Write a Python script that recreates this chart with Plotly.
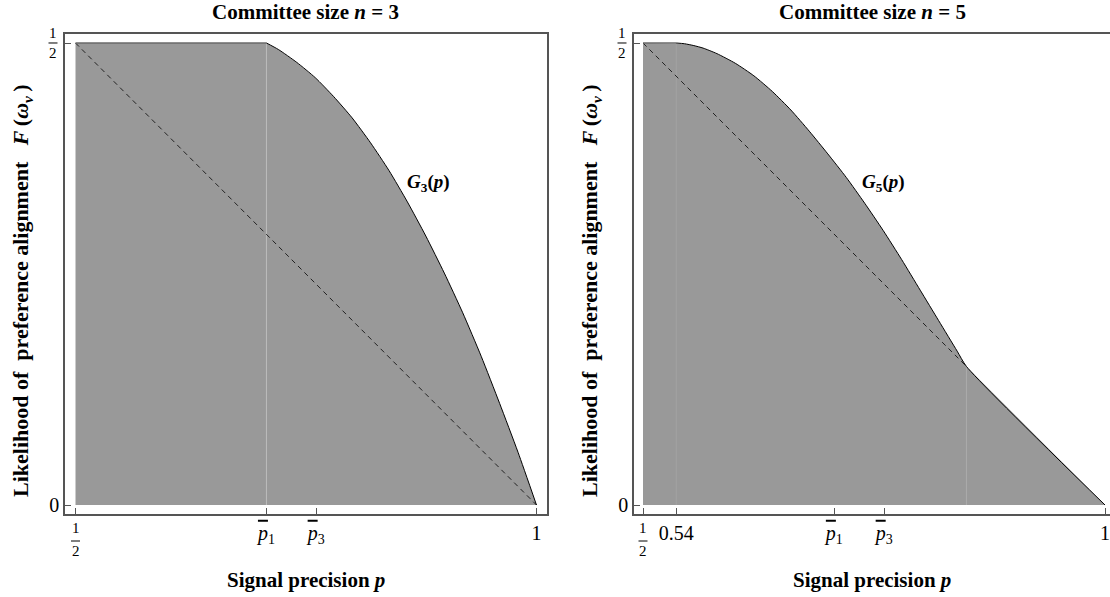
import plotly.graph_objects as go

# ---------------- data ----------------
# Left panel: committee size n = 3
p3 = [0.5, 0.7071, 0.72, 0.74, 0.76, 0.78, 0.80, 0.82, 0.84, 0.86, 0.88,
      0.90, 0.92, 0.94, 0.96, 0.98, 1.0]
G3 = [0.5, 0.5, 0.493, 0.479, 0.4625, 0.442, 0.419, 0.392, 0.362, 0.328,
      0.291, 0.251, 0.208, 0.161, 0.110, 0.057, 0.0]

# Right panel: committee size n = 5
p5 = [0.5, 0.536, 0.545, 0.555, 0.565, 0.58, 0.60, 0.62, 0.64, 0.66, 0.68,
      0.70, 0.72, 0.74, 0.76, 0.78, 0.80, 0.82, 0.84, 0.85, 1.0]
G5 = [0.5, 0.5, 0.4992, 0.4972, 0.4945, 0.4885, 0.478, 0.4645, 0.4475, 0.4275,
      0.4045, 0.380, 0.3545, 0.3265, 0.297, 0.2655, 0.2325, 0.1995, 0.1665,
      0.15, 0.0]

# 45-degree reference line F = 1 - p (dashed)
diag_p = [0.5, 1.0]
diag_F = [0.5, 0.0]

pbar1 = 0.7071
pbar3 = 0.761
p054 = 0.536
pkink5 = 0.85

x_ticks_left = [0.5, pbar1, pbar3, 1.0]
x_ticks_right = [0.5, p054, pbar1, pbar3, 1.0]
pbar_txt = '<i><span style="text-decoration:overline">p</span></i><sub>{}</sub>'
x_text_left = ["", pbar_txt.format(1), pbar_txt.format(3), "1"]
x_text_right = ["", "0.54", pbar_txt.format(1), pbar_txt.format(3), "1"]
y_ticks = [0.0, 0.5]
y_text = ["0", ""]

# ---------------- layout geometry ----------------
W, H = 1110, 597
M = dict(l=65, r=0, t=34, b=83)
PW, PH = W - M["l"] - M["r"], H - M["t"] - M["b"]
dom_left = [0, 0.46124]
dom_right = [0.5445, 1]
rng_left = [0.48861, 1.01139]
rng_right = [0.49026, 1.00541]
rng_y = [-0.00974, 0.50974]

FONT = "Liberation Serif"
FILL = "#999999"
FRAME = "#555555"

fig = go.Figure()

def panel(xa, ya, p, G, flat_end, dividers, diag_end):
    fig.add_trace(go.Scatter(x=p, y=G, mode="lines", fill="tozeroy",
                             fillcolor=FILL, line=dict(width=0),
                             xaxis=xa, yaxis=ya, hoverinfo="skip"))
    for (xd, yd, col) in dividers:
        fig.add_trace(go.Scatter(x=[xd, xd], y=[0, yd], mode="lines",
                                 line=dict(color=col, width=1),
                                 xaxis=xa, yaxis=ya, hoverinfo="skip"))
    dx = [diag_p[0], diag_end]
    dy = [diag_F[0], diag_F[0] + (diag_F[1] - diag_F[0]) * (diag_end - diag_p[0]) / (diag_p[1] - diag_p[0])]
    fig.add_trace(go.Scatter(x=dx, y=dy, mode="lines",
                             line=dict(color="#222222", width=1, dash="5px,4px"),
                             xaxis=xa, yaxis=ya, hoverinfo="skip"))
    k = p.index(flat_end)
    fig.add_trace(go.Scatter(x=p[:k + 1], y=G[:k + 1], mode="lines",
                             line=dict(color="#6a6a6a", width=1.6),
                             xaxis=xa, yaxis=ya, hoverinfo="skip"))
    fig.add_trace(go.Scatter(x=p[k:], y=G[k:], mode="lines",
                             line=dict(color="black", width=1, shape="spline",
                                       smoothing=0.6),
                             xaxis=xa, yaxis=ya, hoverinfo="skip"))

panel("x", "y", p3, G3, pbar1, [(pbar1, G3[p3.index(pbar1)], "#bdbdbd")],
      diag_p[1])
panel("x2", "y2", p5, G5, p054,
      [(p054, G5[p5.index(p054)], "#a2a2a2"),
       (pkink5, G5[p5.index(pkink5)], "#adadad")], pkink5)

tickfont = dict(family=FONT, size=20, color="black")
common_x = dict(showgrid=False, zeroline=False, showline=True, linecolor=FRAME,
                linewidth=1.5, ticks="inside", ticklen=6, tickcolor=FRAME,
                tickwidth=1, tickfont=tickfont, tickmode="array",
                ticklabeloverflow="allow")
common_y = dict(showgrid=False, zeroline=False, showline=True, linecolor=FRAME,
                linewidth=1.5, ticks="inside", ticklen=6, tickcolor=FRAME,
                tickwidth=1, tickfont=tickfont, tickmode="array",
                tickvals=y_ticks, ticktext=y_text, range=rng_y)

fig.update_layout(
    width=W, height=H, autosize=False,
    margin=M,
    plot_bgcolor="white", paper_bgcolor="white", showlegend=False,
    xaxis=dict(common_x, domain=dom_left, range=rng_left,
               tickvals=x_ticks_left, ticktext=x_text_left, mirror=True,
               anchor="y"),
    yaxis=dict(common_y, domain=[0, 1], anchor="x", mirror=True),
    xaxis2=dict(common_x, domain=dom_right, range=rng_right,
                tickvals=x_ticks_right, ticktext=x_text_right, mirror=True,
                anchor="y2"),
    yaxis2=dict(common_y, domain=[0, 1], anchor="x2", mirror=False),
)

def px_x(dom, rng, v, off=0.0):
    return dom[0] + (v - rng[0]) / (rng[1] - rng[0]) * (dom[1] - dom[0]) + off / PW

def px_y(v, off=0.0):
    return (v - rng_y[0]) / (rng_y[1] - rng_y[0]) + off / PH

ann = []
shapes = []
title_font = dict(family=FONT, size=21, color="black")
ytitle_font = dict(family=FONT, size=22, color="black")
small = dict(family=FONT, size=15, color="black")
ytitle = ("<b>Likelihood of\u00a0 preference alignment\u00a0\u00a0\u00a0"
          "<i>F</i>\u2009(<i>\u03c9</i><sub><i>v</i></sub>\u2009)</b>")
for xa, ya, n, dom, rng, gx in [("x", "y", 3, dom_left, rng_left, 0.8825),
                                ("x2", "y2", 5, dom_right, rng_right, 0.7605)]:
    domref = f"{xa} domain"
    ann.append(dict(xref=domref, yref="paper", x=0.5, y=1, yshift=22,
                    text=f"<b>Committee size <i>n</i> = {n}</b>",
                    showarrow=False, font=title_font,
                    xanchor="center", yanchor="middle"))
    ann.append(dict(xref=domref, yref="paper", x=0.5, y=0, yshift=-66,
                    text="<b>Signal precision <i>p</i></b>",
                    showarrow=False, font=title_font,
                    xanchor="center", yanchor="middle"))
    ann.append(dict(xref=domref, yref="paper", x=0, y=0.5, xshift=-43, yshift=-17,
                    text=ytitle, textangle=-90, showarrow=False, font=ytitle_font,
                    xanchor="center", yanchor="middle"))
    ann.append(dict(xref=xa, yref=ya, x=gx, y=0.349,
                    text=f"<b><i>G</i><sub>{n}</sub>(<i>p</i>)</b>",
                    showarrow=False, font=dict(family=FONT, size=19, color="black"),
                    xanchor="center", yanchor="middle"))
    # stacked fraction 1/2 under the x axis
    ann.append(dict(xref=xa, yref=ya, x=0.5, y=0, yshift=-23, text="1",
                    showarrow=False, font=small, xanchor="center", yanchor="middle"))
    ann.append(dict(xref=xa, yref=ya, x=0.5, y=0, yshift=-46, text="2",
                    showarrow=False, font=small, xanchor="center", yanchor="middle"))
    bx = px_x(dom, rng, 0.5)
    by = px_y(0.0, -36)
    shapes.append(dict(type="line", xref="paper", yref="paper",
                       x0=bx - 4.5 / PW, x1=bx + 4.5 / PW, y0=by, y1=by,
                       line=dict(color="black", width=1)))
    # stacked fraction 1/2 left of the y axis
    ann.append(dict(xref=domref, yref=ya, x=0, xshift=-12, y=0.5, yshift=10, text="1",
                    showarrow=False, font=small, xanchor="center", yanchor="middle"))
    ann.append(dict(xref=domref, yref=ya, x=0, xshift=-12, y=0.5, yshift=-10, text="2",
                    showarrow=False, font=small, xanchor="center", yanchor="middle"))
    lx = dom[0]
    ly = px_y(0.5)
    shapes.append(dict(type="line", xref="paper", yref="paper",
                       x0=lx - 16.5 / PW, x1=lx - 7.5 / PW, y0=ly, y1=ly,
                       line=dict(color="black", width=1)))

fig.update_layout(annotations=ann, shapes=shapes)
fig.write_html("out.html")
